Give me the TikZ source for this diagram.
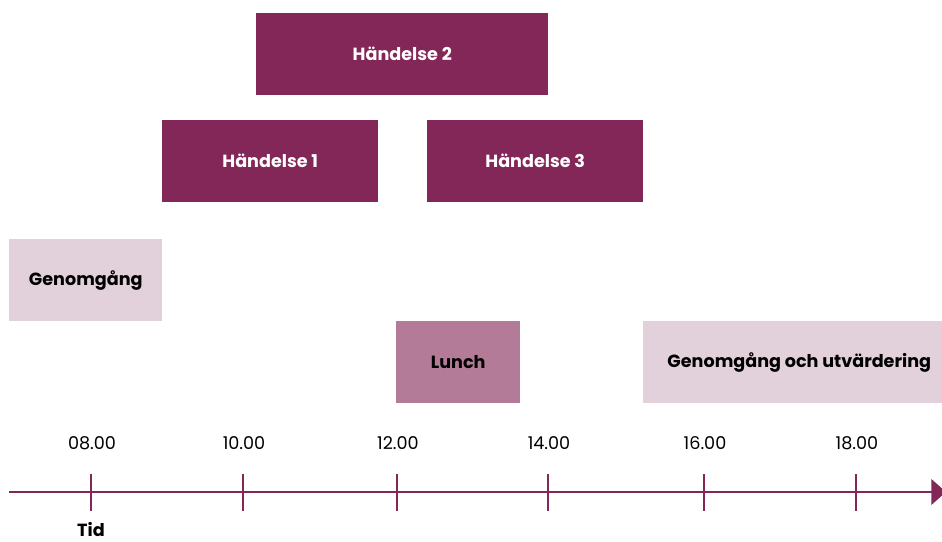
\documentclass[tikz,border=0pt]{standalone}
\usepackage{fontspec}
\setmainfont{Poppins}
\usetikzlibrary{arrows.meta,positioning}
\definecolor{plum}{HTML}{832658}
\definecolor{mauve}{HTML}{B47B98}
\definecolor{blush}{HTML}{E2D1DA}
\tikzset{
  slot/.style={minimum height=61.5pt, inner sep=0pt, font=\bfseries\fontsize{13.2}{15}\selectfont, anchor=north west},
  darkslot/.style={slot, fill=plum, text=white},
  midslot/.style={slot, fill=mauve, text=black},
  lightslot/.style={slot, fill=blush, text=black},
  axisline/.style={draw=plum, line width=2.2pt},
  tickmark/.style={draw=plum, line width=1.6pt},
  hour/.style={font=\fontsize{13.2}{15}\selectfont, text=black},
}
\begin{document}
\begin{tikzpicture}[x=0.75pt,y=-0.75pt]
\useasboundingbox (0,0) rectangle (942,542);
\clip (0,0) rectangle (942,542);

% event blocks
\node[darkslot, minimum width=219pt] (h2) at (256,13) {Händelse 2};
\node[darkslot, minimum width=162pt] (h1) at (162,120) {Händelse 1};
\node[darkslot, minimum width=162pt] (h3) at (427,120) {Händelse 3};
\node[lightslot, minimum width=114.75pt] (intro) at (9,239) {Genomgång};
\node[midslot, minimum width=93pt] (lunch) at (396,321) {Lunch};
\node[lightslot, minimum width=226pt] (review) at (643,321) {\hspace*{8pt}Genomgång och utvärdering};

% time axis
\coordinate (a0) at (9,492);
\coordinate (a1) at (946,492);
\draw[axisline, -{Triangle[length=11pt,width=19pt]}] (a0) -- (a1);

\foreach \x/\t [count=\i] in {91/08.00, 243/10.00, 397/12.00, 548/14.00, 704/16.00, 856/18.00} {
  \coordinate (t\i top) at (\x,474);
  \coordinate (t\i bot) at (\x,511);
  \draw[tickmark] (t\i top) -- (t\i bot);
  \node[hour] (lab\i) at (\x+1,443) {\t};
}
\node[font=\bfseries\fontsize{13.2}{15}\selectfont, inner sep=1pt] (tid) at (91,530) {Tid};
\end{tikzpicture}
\end{document}
